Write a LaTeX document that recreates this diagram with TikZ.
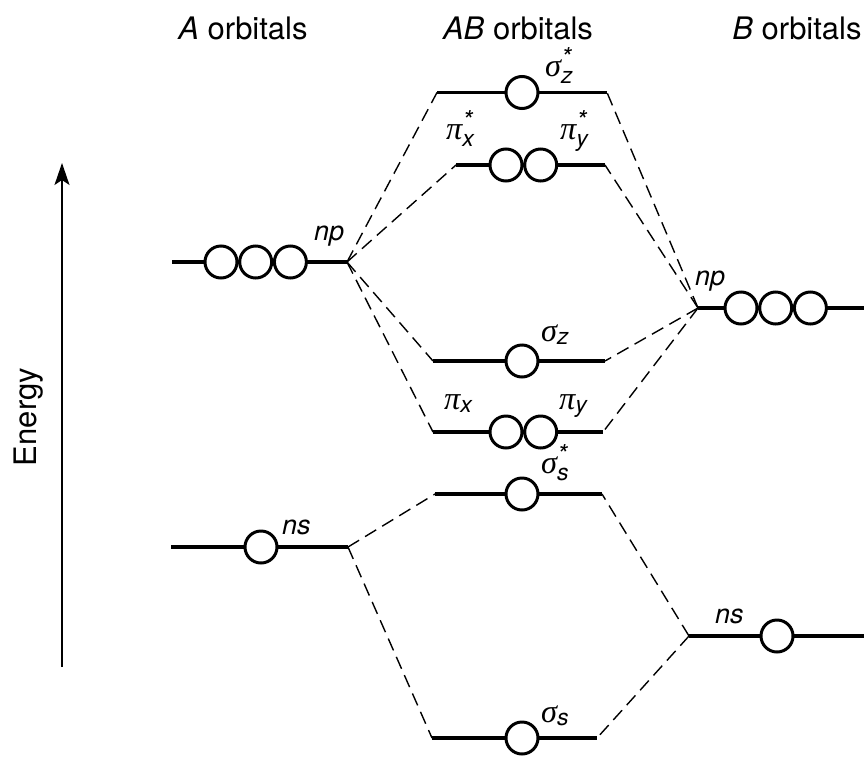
\documentclass[tikz,border=0pt]{standalone}
\usepackage{amsmath}
\usepackage{fontspec}
\setmainfont{TeX Gyre Heros}
\newfontfamily\grk[Scale=1.2]{Liberation Serif}
\usetikzlibrary{arrows.meta}
\DeclareMathSizes{27}{27}{23}{17}
\newcommand{\orbs}[2]{$\text{\grk\itshape #1}_{\text{\itshape #2}}$}
\newcommand{\orbss}[2]{$\text{\grk\itshape #1}^{\text{\fontsize{26}{26}\selectfont *}}_{\text{\itshape #2}}$}
\begin{document}
\begin{tikzpicture}[x=1pt,y=-1pt,
  level/.style={line width=3.3pt},
  conn/.style={line width=1.4pt, dash pattern=on 13pt off 7pt},
  orb/.style={circle, draw, line width=3pt, fill=white, minimum size=32pt, inner sep=0pt},
  lab/.style={inner sep=0pt, anchor=base west, font=\fontsize{27}{32}\selectfont\itshape},
  head/.style={inner sep=0pt, font=\fontsize{31}{36}\selectfont}]
\useasboundingbox (0,0) rectangle (864,758);

% headings
\node[head] (hA) at (243,28) {\textit{A} orbitals};
\node[head] (hAB) at (518,28) {\textit{AB} orbitals};
\node[head] (hB) at (797,28) {\textit{B} orbitals};

% energy axis
\coordinate (e0) at (62,667);
\coordinate (e1) at (62,163);
\draw[line width=1.6pt, -{Stealth[length=22pt,width=15pt,inset=5pt]}] (e0) -- (e1);
\node[head, rotate=90] (en) at (29,417) {Energy};

% level end points
\coordinate (szL) at (437,92.5);  \coordinate (szR) at (607,92.5);
\coordinate (pxL) at (456,165);   \coordinate (pxR) at (605,165);
\coordinate (AnpL) at (172,262);  \coordinate (AnpR) at (347,262);
\coordinate (BnpL) at (698,308);  \coordinate (BnpR) at (864,308);
\coordinate (bzL) at (433,361);   \coordinate (bzR) at (605,361);
\coordinate (bpL) at (433,432);   \coordinate (bpR) at (603,432);
\coordinate (ssL) at (435,494);   \coordinate (ssR) at (602,494);
\coordinate (AnsL) at (171,547);  \coordinate (AnsR) at (348,547);
\coordinate (BnsL) at (689,636);  \coordinate (BnsR) at (864,636);
\coordinate (bsL) at (432,738);   \coordinate (bsR) at (597,738);

% dashed connectors
\draw[conn] (AnpR) -- (szL);
\draw[conn] (AnpR) -- (pxL);
\draw[conn] (AnpR) -- (bzL);
\draw[conn] (AnpR) -- (bpL);
\draw[conn] (BnpL) -- (szR);
\draw[conn] (BnpL) -- (pxR);
\draw[conn] (BnpL) -- (bzR);
\draw[conn] (BnpL) -- (bpR);
\draw[conn] (AnsR) -- (ssL);
\draw[conn] (AnsR) -- (bsL);
\draw[conn] (BnsL) -- (ssR);
\draw[conn] (BnsL) -- (bsR);

% levels
\draw[level] (szL) -- (szR);
\draw[level] (pxL) -- (pxR);
\draw[level] (AnpL) -- (AnpR);
\draw[level] (BnpL) -- (BnpR);
\draw[level] (bzL) -- (bzR);
\draw[level] (bpL) -- (bpR);
\draw[level] (ssL) -- (ssR);
\draw[level] (AnsL) -- (AnsR);
\draw[level] (BnsL) -- (BnsR);
\draw[level] (bsL) -- (bsR);

% orbitals (circles)
\node[orb] (o1) at (522,92.5) {};
\node[orb] (o2) at (506,165) {};
\node[orb] (o3) at (540.7,165) {};
\node[orb] (o4) at (221,262) {};
\node[orb] (o5) at (255.7,262) {};
\node[orb] (o6) at (290.4,262) {};
\node[orb] (o7) at (741,308) {};
\node[orb] (o8) at (775.7,308) {};
\node[orb] (o9) at (810.4,308) {};
\node[orb] (o10) at (522,361) {};
\node[orb] (o11) at (506,432) {};
\node[orb] (o12) at (540.7,432) {};
\node[orb] (o13) at (522,494) {};
\node[orb] (o14) at (261,547) {};
\node[orb] (o15) at (777,636) {};
\node[orb] (o16) at (522,738) {};

% labels
\node[lab] (l1) at (545,76) {\orbss{σ}{z}};
\node[lab] (l2) at (446,139) {\orbss{π}{x}};
\node[lab] (l3) at (560,139) {\orbss{π}{y}};
\node[lab] (l4) at (314,240) {np};
\node[lab] (l5) at (695,285) {np};
\node[lab] (l6) at (541,341) {\orbs{σ}{z}};
\node[lab] (l7) at (444,409) {\orbs{π}{x}};
\node[lab] (l8) at (559,409) {\orbs{π}{y}};
\node[lab] (l9) at (541,473) {\orbss{σ}{s}};
\node[lab] (l10) at (282,534) {ns};
\node[lab] (l11) at (715,623) {ns};
\node[lab] (l12) at (541,722) {\orbs{σ}{s}};
\end{tikzpicture}
\end{document}
